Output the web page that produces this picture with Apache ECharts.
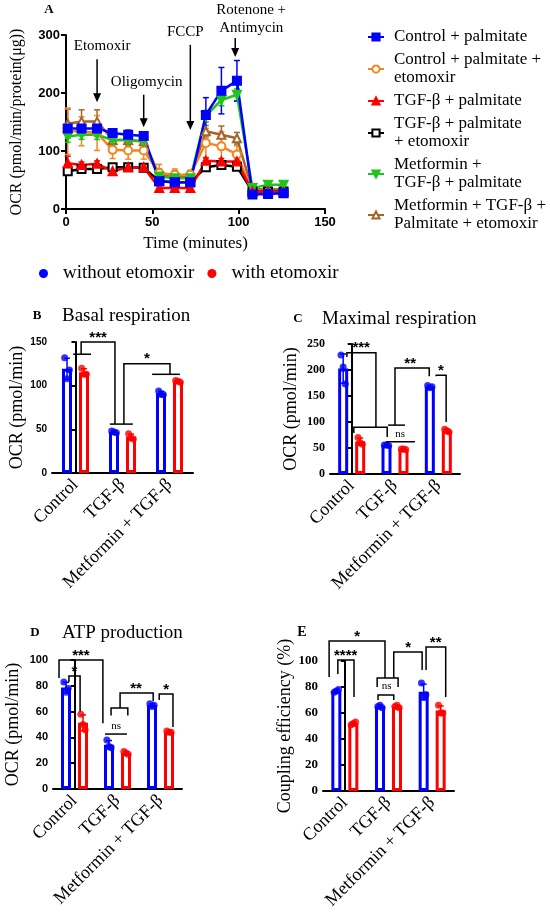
<!DOCTYPE html>
<html>
<head>
<meta charset="utf-8">
<script src="https://cdn.jsdelivr.net/npm/echarts@6/dist/echarts.min.js"></script>
<style>
  html, body { margin: 0; padding: 0; background: #fff; }
  #charts { width: 550px; height: 921px; }
</style>
</head>
<body>
<div id="charts"></div>
<script>
// ---- panel A: OCR time course ----
var timePoints = [1, 9, 18, 27, 36, 45, 54, 63, 72, 81, 90, 99, 108, 117, 126];
var ctrlPalm         = [139, 139, 139, 131, 128, 126, 48, 46, 46, 162, 204, 221, 25, 26, 27];
var ctrlPalmErr      = [10, 10, 12, 6, 8, 6, 5, 5, 5, 30, 40, 35, 5, 5, 5];
var ctrlPalmEto      = [134, 134, 131, 102, 101, 101, 62, 59, 59, 114, 108, 94, 30, 32, 30];
var ctrlPalmEtoErr   = [40, 25, 30, 15, 15, 15, 15, 10, 8, 25, 25, 15, 5, 5, 5];
var tgfPalm          = [79, 76, 78, 65, 72, 72, 36, 36, 36, 83, 82, 82, 30, 30, 29];
var tgfPalmErr       = [12, 5, 5, 5, 5, 5, 5, 5, 5, 5, 5, 5, 3, 3, 3];
var tgfPalmEto       = [65, 69, 69, 72, 72, 71, 48, 46, 46, 72, 76, 73, 30, 30, 30];
var tgfPalmEtoErr    = [5, 5, 5, 5, 5, 5, 3, 3, 3, 5, 5, 5, 3, 3, 3];
var metTgfPalm       = [125, 128, 128, 119, 119, 116, 56, 53, 53, 160, 188, 197, 36, 42, 42];
var metTgfPalmErr    = [10, 8, 8, 8, 8, 8, 8, 8, 5, 10, 10, 10, 5, 5, 5];
var metTgfPalmEto    = [147, 151, 151, 119, 119, 117, 59, 56, 56, 134, 128, 122, 33, 35, 33];
var metTgfPalmEtoErr = [25, 20, 20, 10, 10, 10, 10, 10, 10, 10, 15, 10, 5, 5, 5];

var injections      = ['Etomoxir', 'Oligomycin', 'FCCP', 'Rotenone +\nAntimycin'];
var injectionTimes  = [18, 45, 72, 98];
var arrowFrom       = [258, 197, 283, 295];
var arrowTo         = [184, 141, 136, 262];

// ---- panels B-E: replicates per group ----
var groups = ['Control', 'TGF-β', 'Metformin + TGF-β'];
var basalWithout    = [[132, 108, 118], [48, 47, 46], [94, 90, 90]];
var basalWith       = [[120, 113, 113], [45, 40, 39], [106, 105, 104]];
var maximalWithout  = [[229, 206, 173], [56, 56, 55], [170, 166, 168]];
var maximalWith     = [[70, 60, 57], [48, 48, 47], [86, 83, 81]];
var atpWithout      = [[83, 75, 78], [38, 33, 32], [66, 64, 65]];
var atpWith         = [[58, 50, 46], [29, 28, 27], [45, 44, 44]];
var couplingWithout = [[76, 77, 78], [65, 66, 64], [83, 72, 74]];
var couplingWith    = [[51, 52, 53], [65, 66, 64], [66, 60, 60]];

// significance brackets, in (group index, value) units
var basalBrackets = [
  { paths: [[[-0.05, 136], [0.33, 136]], [[0.12, 136], [0.12, 150], [0.84, 150], [0.84, 56]], [[0.73, 56], [1.22, 56]]], label: '***', at: [0.48, 150] },
  { paths: [[[1.03, 56], [1.03, 125], [2.01, 125], [2.01, 113]], [[1.63, 113], [2.22, 113]]], label: '*', at: [1.52, 125] }
];
var maximalBrackets = [
  { paths: [[[-0.11, 225], [-0.11, 233], [0.56, 233], [0.56, 90]], [[0.05, 79], [0.05, 90], [0.82, 90], [0.82, 71]]], label: '***', at: [0.22, 233] },
  { paths: [[[0.79, 62], [1.46, 62]]], label: 'ns', at: [1.12, 64] },
  { paths: [[[0.84, 94], [1.23, 94]], [[1.0, 94], [1.0, 204], [1.79, 204], [1.79, 188]]], label: '**', at: [1.35, 204] },
  { paths: [[[1.95, 188], [1.95, 190], [2.18, 190], [2.18, 100]]], label: '*', at: [2.06, 190] }
];
var atpBrackets = [
  { paths: [[[-0.36, 86], [-0.36, 100], [0.66, 100], [0.66, 51]]], label: '***', at: [0.15, 100] },
  { paths: [[[-0.13, 83], [-0.13, 87.6], [0.13, 87.6], [0.13, 60]]], label: '*', at: [0.0, 87.6] },
  { paths: [[[0.71, 42.6], [1.22, 42.6]]], label: 'ns', at: [0.97, 44] },
  { paths: [[[0.85, 57], [0.85, 62.8], [1.24, 62.8], [1.24, 57]], [[1.06, 62.8], [1.06, 74.4], [1.83, 74.4], [1.83, 68]]], label: '**', at: [1.43, 74.4] },
  { paths: [[[1.97, 69], [1.97, 73.6], [2.29, 73.6], [2.29, 48]]], label: '*', at: [2.13, 73.6] }
];
var couplingBrackets = [
  { paths: [[[-0.36, 87.7], [-0.36, 115.4], [0.92, 115.4], [0.92, 86.9]]], label: '*', at: [0.28, 115.4] },
  { paths: [[[-0.16, 90], [-0.16, 100.7], [0.21, 100.7], [0.21, 72.3]]], label: '****', at: [0.02, 100.7] },
  { paths: [[[0.74, 80], [0.74, 86.9], [1.22, 86.9], [1.22, 80]], [[0.76, 70], [0.76, 73.8], [1.12, 73.8], [1.12, 70]]], label: 'ns', at: [0.96, 76] },
  { paths: [[[1.12, 86.9], [1.12, 106.9], [1.77, 106.9], [1.77, 93]]], label: '*', at: [1.45, 106.9] },
  { paths: [[[1.86, 93], [1.86, 110.7], [2.31, 110.7], [2.31, 72.3]]], label: '**', at: [2.08, 110.7] }
];

var blue = '#0000ff', red = '#ff0000';
var serif = 'Liberation Serif', sans = 'Liberation Sans';

function mean(a) { return a.reduce(function (s, v) { return s + v; }, 0) / a.length; }
function sd(a) {
  var m = mean(a);
  return Math.sqrt(a.reduce(function (s, v) { return s + (v - m) * (v - m); }, 0) / (a.length - 1));
}

function errorBars(color, cap) {
  return function (params, api) {
    var x = api.value(0), y = api.value(1), e = api.value(2);
    var hi = api.coord([x, y + e]), lo = api.coord([x, y - e]);
    var st = { stroke: color, lineWidth: 1.5 };
    return {
      type: 'group', children: [
        { type: 'line', shape: { x1: hi[0], y1: hi[1], x2: lo[0], y2: lo[1] }, style: st },
        { type: 'line', shape: { x1: hi[0] - cap, y1: hi[1], x2: hi[0] + cap, y2: hi[1] }, style: st },
        { type: 'line', shape: { x1: lo[0] - cap, y1: lo[1], x2: lo[0] + cap, y2: lo[1] }, style: st }
      ]
    };
  };
}

function bracketRenderer(list) {
  return function (params, api) {
    var b = list[params.dataIndex];
    var kids = b.paths.map(function (p) {
      return { type: 'polyline', shape: { points: p.map(function (q) { return api.coord(q); }) },
        style: { stroke: '#000', lineWidth: 1.5, fill: null } };
    });
    var t = api.coord(b.at);
    var isNs = b.label === 'ns';
    kids.push({ type: 'text', x: t[0], y: t[1] - (isNs ? 1 : -3),
      style: { text: b.label, align: 'center', verticalAlign: 'bottom',
        font: isNs ? '11px ' + serif : 'bold 15px ' + sans, fill: '#000' } });
    return { type: 'group', children: kids };
  };
}

var axisLineStyle = { lineStyle: { color: '#000', width: 2 } };
var axisTickStyle = { length: 5, lineStyle: { color: '#000', width: 2 } };

var option = {
  animation: false,
  backgroundColor: '#fff',
  textStyle: { fontFamily: serif },
  grid: [{ left: 66, top: 35, width: 259, height: 174 }],
  xAxis: [{
    type: 'value', gridIndex: 0, min: 0, max: 150, interval: 50,
    name: 'Time (minutes)', nameLocation: 'middle', nameGap: 26,
    nameTextStyle: { fontFamily: serif, fontSize: 17, color: '#000' },
    axisLine: axisLineStyle, axisTick: axisTickStyle, splitLine: { show: false },
    axisLabel: { fontFamily: sans, fontWeight: 'bold', fontSize: 13, color: '#000', margin: 7 }
  }],
  yAxis: [{
    type: 'value', gridIndex: 0, min: 0, max: 300, interval: 100,
    name: 'OCR (pmol/min/protein(μg))', nameLocation: 'middle', nameGap: 41, nameRotate: 90,
    nameTextStyle: { fontFamily: serif, fontSize: 16, color: '#000' },
    axisLine: axisLineStyle, axisTick: axisTickStyle, splitLine: { show: false },
    axisLabel: { fontFamily: sans, fontWeight: 'bold', fontSize: 13, color: '#000', margin: 6 }
  }],
  legend: [],
  graphic: [],
  series: []
};

// panel A lines, drawn back to front
var lineDefs = [
  { name: 'Metformin + TGF-β + Palmitate + etomoxir', wrap: 'Metformin + TGF-β +\nPalmitate + etomoxir', data: metTgfPalmEto, err: metTgfPalmEtoErr, color: '#a5662b', symbol: 'emptyTriangle', rot: 0 },
  { name: 'Control + palmitate + etomoxir', wrap: 'Control + palmitate +\netomoxir', data: ctrlPalmEto, err: ctrlPalmEtoErr, color: '#f5851f', symbol: 'emptyCircle', rot: 0 },
  { name: 'TGF-β + palmitate + etomoxir', wrap: 'TGF-β + palmitate\n+ etomoxir', data: tgfPalmEto, err: tgfPalmEtoErr, color: '#000000', symbol: 'emptyRect', rot: 0 },
  { name: 'Metformin + TGF-β + palmitate', wrap: 'Metformin +\nTGF-β + palmitate', data: metTgfPalm, err: metTgfPalmErr, color: '#1fc41f', symbol: 'triangle', rot: 180 },
  { name: 'TGF-β + palmitate', wrap: 'TGF-β + palmitate', data: tgfPalm, err: tgfPalmErr, color: red, symbol: 'triangle', rot: 0 },
  { name: 'Control + palmitate', wrap: 'Control + palmitate', data: ctrlPalm, err: ctrlPalmErr, color: blue, symbol: 'rect', rot: 0 }
];
var legendOrder = ['Control + palmitate', 'Control + palmitate + etomoxir', 'TGF-β + palmitate',
  'TGF-β + palmitate + etomoxir', 'Metformin + TGF-β + palmitate', 'Metformin + TGF-β + Palmitate + etomoxir'];
var wrapped = {};
lineDefs.forEach(function (d) {
  wrapped[d.name] = d.wrap;
  option.series.push({
    type: 'custom', xAxisIndex: 0, yAxisIndex: 0, clip: false, silent: true, z: 1,
    renderItem: errorBars(d.color, 3),
    data: timePoints.map(function (t, i) { return [t, d.data[i], d.err[i]]; })
  });
  option.series.push({
    type: 'line', name: d.name, xAxisIndex: 0, yAxisIndex: 0, z: 2,
    data: timePoints.map(function (t, i) { return [t, d.data[i]]; }),
    symbol: d.symbol, symbolRotate: d.rot, symbolSize: 8,
    lineStyle: { color: d.color, width: 2.5 },
    itemStyle: { color: d.color, borderColor: d.color, borderWidth: 2 }
  });
});

// injection arrows
var labelShift = [[5, -4], [3, -4], [-5, -4], [16, -1]];
option.series.push({
  type: 'custom', xAxisIndex: 0, yAxisIndex: 0, clip: false, silent: true, z: 5,
  data: injectionTimes.map(function (t, i) { return [t, arrowFrom[i], arrowTo[i]]; }),
  renderItem: function (params, api) {
    var i = params.dataIndex;
    var a = api.coord([api.value(0), api.value(1)]), b = api.coord([api.value(0), api.value(2)]);
    return {
      type: 'group', children: [
        { type: 'line', shape: { x1: a[0], y1: a[1], x2: b[0], y2: b[1] - 6 }, style: { stroke: '#000', lineWidth: 1.5 } },
        { type: 'polygon', shape: { points: [[b[0] - 4, b[1] - 9], [b[0] + 4, b[1] - 9], [b[0], b[1]]] }, style: { fill: '#000' } },
        { type: 'text', x: a[0] + labelShift[i][0], y: a[1] + labelShift[i][1],
          style: { text: injections[i], align: 'center', verticalAlign: 'bottom', font: '15px ' + serif, lineHeight: 18, fill: '#000' } }
      ]
    };
  }
});

option.legend.push({
  data: legendOrder, orient: 'vertical', left: 362, top: 23, itemGap: 5,
  itemWidth: 16, itemHeight: 9, selectedMode: false,
  formatter: function (n) { return wrapped[n]; },
  textStyle: { fontFamily: serif, fontSize: 17, lineHeight: 18, color: '#000', padding: [0, 0, 0, 5] }
});
option.legend.push({
  data: [
    { name: 'without etomoxir', icon: 'circle', itemStyle: { color: blue, borderWidth: 0 } },
    { name: 'with etomoxir', icon: 'circle', itemStyle: { color: red, borderWidth: 0 } }
  ],
  left: 34, top: 259, itemGap: 13, itemWidth: 9, itemHeight: 9, selectedMode: false,
  textStyle: { fontFamily: serif, fontSize: 19, color: '#000', padding: [0, 0, 0, 10] }
});

// bar panels
var panels = [
  { without: basalWithout, with: basalWith, brackets: basalBrackets, grid: { left: 52, top: 342, width: 141, height: 131 },
    max: 150, interval: 50, yName: 'OCR (pmol/min)', nameGap: 22, tickFont: sans, tickSize: 10 },
  { without: maximalWithout, with: maximalWith, brackets: maximalBrackets, grid: { left: 330, top: 344, width: 130, height: 130 },
    max: 250, interval: 50, yName: 'OCR (pmol/min)', nameGap: 30, tickFont: serif, tickSize: 12 },
  { without: atpWithout, with: atpWith, brackets: atpBrackets, grid: { left: 53, top: 660, width: 129, height: 129 },
    max: 100, interval: 20, yName: 'OCR (pmol/min)', nameGap: 31, tickFont: sans, tickSize: 11 },
  { without: couplingWithout, with: couplingWith, brackets: couplingBrackets, grid: { left: 323, top: 661, width: 131, height: 130 },
    max: 100, interval: 20, yName: 'Coupling efficiency (%)', nameGap: 29, tickFont: serif, tickSize: 13 }
];
var barW = 10, gapRatio = 0.7;
var jitter = [-0.05, 0, 0.05];

panels.forEach(function (p, k) {
  var g = k + 1, cx = 2 * k + 1, vx = 2 * k + 2, y = k + 1;
  option.grid.push(p.grid);
  option.xAxis.push({
    type: 'category', gridIndex: g, data: groups,
    axisLine: axisLineStyle, axisTick: { alignWithLabel: true, length: 5, lineStyle: { color: '#000', width: 2 } },
    axisLabel: { rotate: 45, fontFamily: serif, fontSize: 18, color: '#000', margin: 9, interval: 0 }
  });
  option.xAxis.push({ type: 'value', gridIndex: g, min: -0.5, max: 2.5, show: false });
  option.yAxis.push({
    type: 'value', gridIndex: g, min: 0, max: p.max, interval: p.interval,
    name: p.yName, nameLocation: 'middle', nameRotate: 90, nameGap: p.nameGap,
    nameTextStyle: { fontFamily: serif, fontSize: 18, color: '#000' },
    axisLine: axisLineStyle, axisTick: { length: 4, lineStyle: { color: '#000', width: 2 } }, splitLine: { show: false },
    axisLabel: { fontFamily: p.tickFont, fontWeight: 'bold', fontSize: p.tickSize, color: '#000', margin: 5 }
  });
  var catW = p.grid.width / groups.length;
  var off = (barW / 2 + barW * gapRatio / 2) / catW;
  [['without etomoxir', p.without, blue, -1], ['with etomoxir', p.with, red, 1]].forEach(function (s) {
    option.series.push({
      type: 'bar', name: s[0], xAxisIndex: cx, yAxisIndex: y, barWidth: barW, barGap: (gapRatio * 100) + '%',
      data: s[1].map(mean), z: 2,
      itemStyle: { color: 'rgba(255,255,255,0)', borderColor: s[2], borderWidth: 3 }
    });
    option.series.push({
      type: 'custom', xAxisIndex: vx, yAxisIndex: y, clip: false, silent: true, z: 3,
      renderItem: errorBars(s[2], 3),
      data: s[1].map(function (r, i) { return [i + s[3] * off, mean(r), sd(r)]; })
    });
    var pts = [];
    s[1].forEach(function (r, i) {
      r.forEach(function (v, j) { pts.push([i + s[3] * off + jitter[j], v]); });
    });
    option.series.push({
      type: 'scatter', xAxisIndex: vx, yAxisIndex: y, symbolSize: 7, z: 4, silent: true,
      itemStyle: { color: s[2] }, data: pts
    });
  });
  option.series.push({
    type: 'custom', xAxisIndex: vx, yAxisIndex: y, clip: false, silent: true, z: 5,
    renderItem: bracketRenderer(p.brackets),
    data: p.brackets.map(function (b) { return b.at; })
  });
});

// panel letters and titles
function txt(x, y, s, font, align) {
  return { type: 'text', x: x, y: y, style: { text: s, font: font, fill: '#000', align: align || 'left', verticalAlign: 'middle' } };
}
option.graphic = [
  txt(49, 10, 'A', 'bold 13px ' + serif, 'center'),
  txt(37, 316, 'B', 'bold 13px ' + serif, 'center'),
  txt(62, 316, 'Basal respiration', '19px ' + serif),
  txt(298, 319, 'C', 'bold 13px ' + serif, 'center'),
  txt(322, 319, 'Maximal respiration', '19px ' + serif),
  txt(35, 633, 'D', 'bold 13px ' + serif, 'center'),
  txt(62, 633, 'ATP production', '19px ' + serif),
  txt(302, 632, 'E', 'bold 14px ' + serif, 'center')
];

var chart = echarts.init(document.getElementById('charts'));
chart.setOption(option);
</script>
</body>
</html>
